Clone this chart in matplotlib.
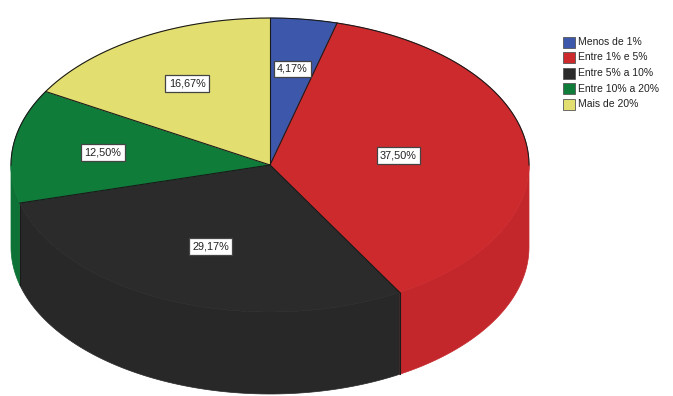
import numpy as np
import matplotlib
matplotlib.use('Agg')
import matplotlib.pyplot as plt
from matplotlib.patches import Polygon, Rectangle

# Data (clockwise from 12 o'clock)
categories = ['Menos de 1%', 'Entre 1% e 5%', 'Entre 5% a 10%', 'Entre 10% a 20%', 'Mais de 20%']
percent = [4.17, 37.50, 29.17, 12.50, 16.67]
top_colors = ['#3d58aa', '#cd2a2e', '#2b2b2b', '#0f7c3a', '#e3de70']
side_colors = ['#344c96', '#c4272b', '#282828', '#0d7235', '#cfca62']

# pie geometry in pixel coordinates
cx, cy, rx, ry, depth = 270, 165, 259, 147, 82
label_r = [0.66, 0.50, 0.60, 0.65, 0.64]

plt.rcParams['font.family'] = ['Liberation Sans', 'DejaVu Sans']

fig = plt.figure(figsize=(6.73, 3.96), dpi=100)
ax = fig.add_axes([0, 0, 1, 1])
ax.set_xlim(0, 673)
ax.set_ylim(396, 0)
ax.axis('off')


def pt(t, dy=0.0, r=1.0):
    return cx + r * rx * np.sin(t), cy - r * ry * np.cos(t) + dy


fr = np.array(percent) / sum(percent)
bounds = np.concatenate([[0], np.cumsum(fr)]) * 2 * np.pi

# side walls (front half only)
for i in range(len(percent)):
    a0 = max(bounds[i], np.pi / 2)
    a1 = min(bounds[i + 1], 3 * np.pi / 2)
    if a1 <= a0:
        continue
    t = np.linspace(a0, a1, 80)
    xs, ys = pt(t)
    xb, yb = pt(t[::-1], dy=depth)
    verts = np.column_stack([np.concatenate([xs, xb]), np.concatenate([ys, yb])])
    ax.add_patch(Polygon(verts, closed=True, facecolor=side_colors[i],
                         edgecolor=side_colors[i], lw=0.5, zorder=1))

# boundary lines on the wall
for b in bounds[1:-1]:
    if np.pi / 2 < b < 3 * np.pi / 2:
        x0, y0 = pt(b)
        ax.plot([x0, x0], [y0, y0 + depth], color='#1a1a1a', lw=0.8, zorder=2)

# top faces
for i in range(len(percent)):
    t = np.linspace(bounds[i], bounds[i + 1], 120)
    xs, ys = pt(t)
    verts = np.column_stack([np.concatenate([[cx], xs]), np.concatenate([[cy], ys])])
    ax.add_patch(Polygon(verts, closed=True, facecolor=top_colors[i],
                         edgecolor=top_colors[i], lw=0.5, zorder=3))

# slice borders and back rim
for b in bounds[:-1]:
    x0, y0 = pt(b)
    ax.plot([cx, x0], [cy, y0], color='#1a1a1a', lw=0.8, zorder=4)
tb = np.linspace(-np.pi / 2, np.pi / 2, 200)
xb, yb = pt(tb)
ax.plot(xb, yb, color='#1a1a1a', lw=0.8, zorder=4)

# labels
for i, p in enumerate(percent):
    mid = (bounds[i] + bounds[i + 1]) / 2
    lx, ly = pt(mid, r=label_r[i])
    ax.text(lx, ly, f'{p:.2f}%'.replace('.', ','), ha='center', va='center',
            fontsize=7.8, color='#222222', zorder=5,
            bbox=dict(boxstyle='square,pad=0.3', facecolor='white',
                      edgecolor='#444444', lw=0.9))

# legend
for i, name in enumerate(categories):
    y = 42 + i * 15.5
    ax.add_patch(Rectangle((563, y - 5.5), 12, 11, facecolor=top_colors[i],
                           edgecolor='#555555', lw=0.6, zorder=5))
    ax.text(578, y, name, ha='left', va='center', fontsize=7.5, color='#222222')

fig.savefig('out.png', dpi=100)
